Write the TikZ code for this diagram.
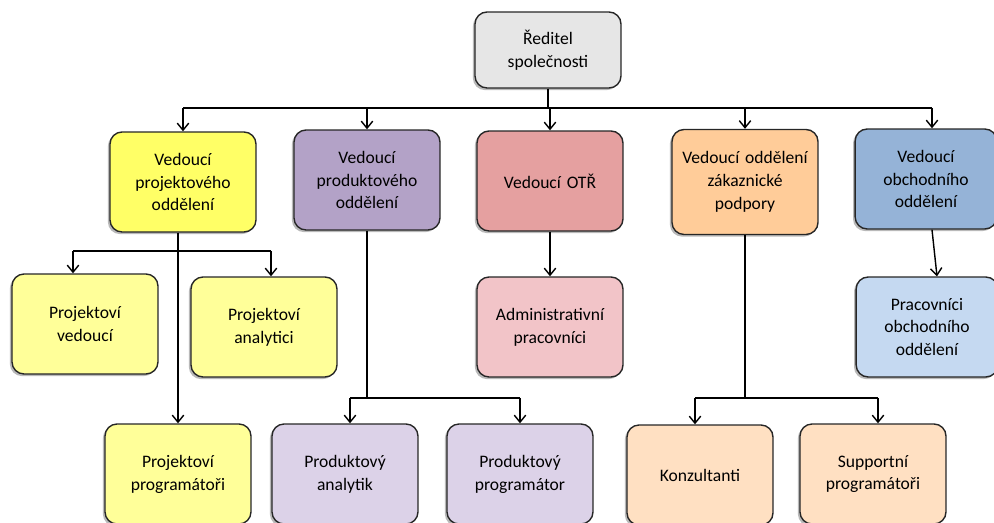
\documentclass[tikz,border=0pt]{standalone}
\usepackage{fontspec}
\setmainfont{Carlito}
\usepackage{xcolor}
\usetikzlibrary{shadows, arrows.meta}

\definecolor{cDir}{HTML}{E6E6E6}
\definecolor{cProj}{HTML}{FFFF66}
\definecolor{cProjL}{HTML}{FFFF99}
\definecolor{cProd}{HTML}{B3A2C7}
\definecolor{cProdL}{HTML}{DCD2E8}
\definecolor{cOtr}{HTML}{E5A0A0}
\definecolor{cOtrL}{HTML}{F2C4C8}
\definecolor{cZak}{HTML}{FFCC99}
\definecolor{cZakL}{HTML}{FFE0C2}
\definecolor{cObch}{HTML}{95B3D7}
\definecolor{cObchL}{HTML}{C5D9F1}

\begin{document}
\begin{tikzpicture}[x=0.02cm, y=-0.02cm,
    box/.style={draw=black!85, line width=0.8pt, rounded corners=0.24cm,
        minimum width=2.92cm, minimum height=2cm, text width=2.6cm, align=center,
        font=\fontsize{10}{13}\selectfont,
        drop shadow={shadow xshift=-1.2pt, shadow yshift=-1.2pt, opacity=0.55}},
    arr/.style={-{Straight Barb[length=4pt, width=6.5pt]}, line width=0.8pt},
    line/.style={line width=0.8pt}]
    \useasboundingbox (0,0) rectangle (994,523);

    \node[box, fill=cDir, minimum height=1.52cm] (dir) at (548,50) {Ředitel\\společnosti};

    \node[box, fill=cProj] (proj) at (183,182) {Vedoucí\\projektového\\oddělení};
    \node[box, fill=cProd] (prod) at (367,180) {Vedoucí\\produktového\\oddělení};
    \node[box, fill=cOtr] (otr) at (550,181) {Vedoucí OTŘ};
    \node[box, fill=cZak, minimum height=2.1cm] (zak) at (745,182) {Vedoucí oddělení\\zákaznické\\podpory};
    \node[box, fill=cObch, minimum width=2.74cm] (obch) at (926,179) {Vedoucí\\obchodního\\oddělení};

    \node[box, fill=cProjL] (pved) at (85,324) {Projektoví\\vedoucí};
    \node[box, fill=cProjL] (pan) at (264,327) {Projektoví\\analytici};
    \node[box, fill=cProjL] (pprog) at (178,474) {Projektoví\\programátoři};
    \node[box, fill=cOtrL] (adm) at (550,327) {Administrativní\\pracovníci};
    \node[box, fill=cObchL, minimum width=2.7cm] (pob) at (927,327) {Pracovníci\\obchodního\\oddělení};
    \node[box, fill=cProdL] (prodan) at (345,474) {Produktový\\analytik};
    \node[box, fill=cProdL] (prodprog) at (520,474) {Produktový\\programátor};
    \node[box, fill=cZakL] (konz) at (700,475) {Konzultanti};
    \node[box, fill=cZakL] (supp) at (873,474) {Supportní\\programátoři};

    % sběrnice
    \coordinate (bus) at (0,108);
    \coordinate (busproj) at (0,251);
    \coordinate (busdown) at (0,398);

    % vstupy do boxů (šipky nejsou vždy uprostřed)
    \coordinate (inobch) at ([xshift=0.12cm]obch.north);
    \coordinate (inpved) at ([xshift=-0.24cm]pved.north);
    \coordinate (inpan) at ([xshift=0.14cm]pan.north);
    \coordinate (inprodan) at ([xshift=0.1cm]prodan.north);
    \coordinate (inkonz) at ([xshift=-0.1cm]konz.north);
    \coordinate (insupp) at ([xshift=0.1cm]supp.north);
    \coordinate (outobch) at ([xshift=0.12cm]obch.south);
    \coordinate (inpob) at ([xshift=0.2cm]pob.north);

    \draw[line] (dir.south) -- (dir.south |- bus);
    \draw[line] (proj.north |- bus) -- (inobch |- bus);
    \foreach \n in {proj.north,prod.north,otr.north,zak.north,inobch}
        \draw[arr] (\n |- bus) -- (\n);

    \draw[line] (inpved |- busproj) -- (inpan |- busproj);
    \draw[arr] (inpved |- busproj) -- (inpved);
    \draw[arr] (inpan |- busproj) -- (inpan);
    \draw[arr] (proj.south -| pprog.north) -- (pprog.north);

    \draw[arr] (otr.south) -- (adm.north);
    \draw[arr] (outobch) -- (inpob);

    \draw[line] (prod.south) -- (prod.south |- busdown);
    \draw[line] (inprodan |- busdown) -- (prodprog.north |- busdown);
    \draw[arr] (inprodan |- busdown) -- (inprodan);
    \draw[arr] (prodprog.north |- busdown) -- (prodprog.north);

    \draw[line] (zak.south) -- (zak.south |- busdown);
    \draw[line] (inkonz |- busdown) -- (insupp |- busdown);
    \draw[arr] (inkonz |- busdown) -- (inkonz);
    \draw[arr] (insupp |- busdown) -- (insupp);
\end{tikzpicture}
\end{document}
